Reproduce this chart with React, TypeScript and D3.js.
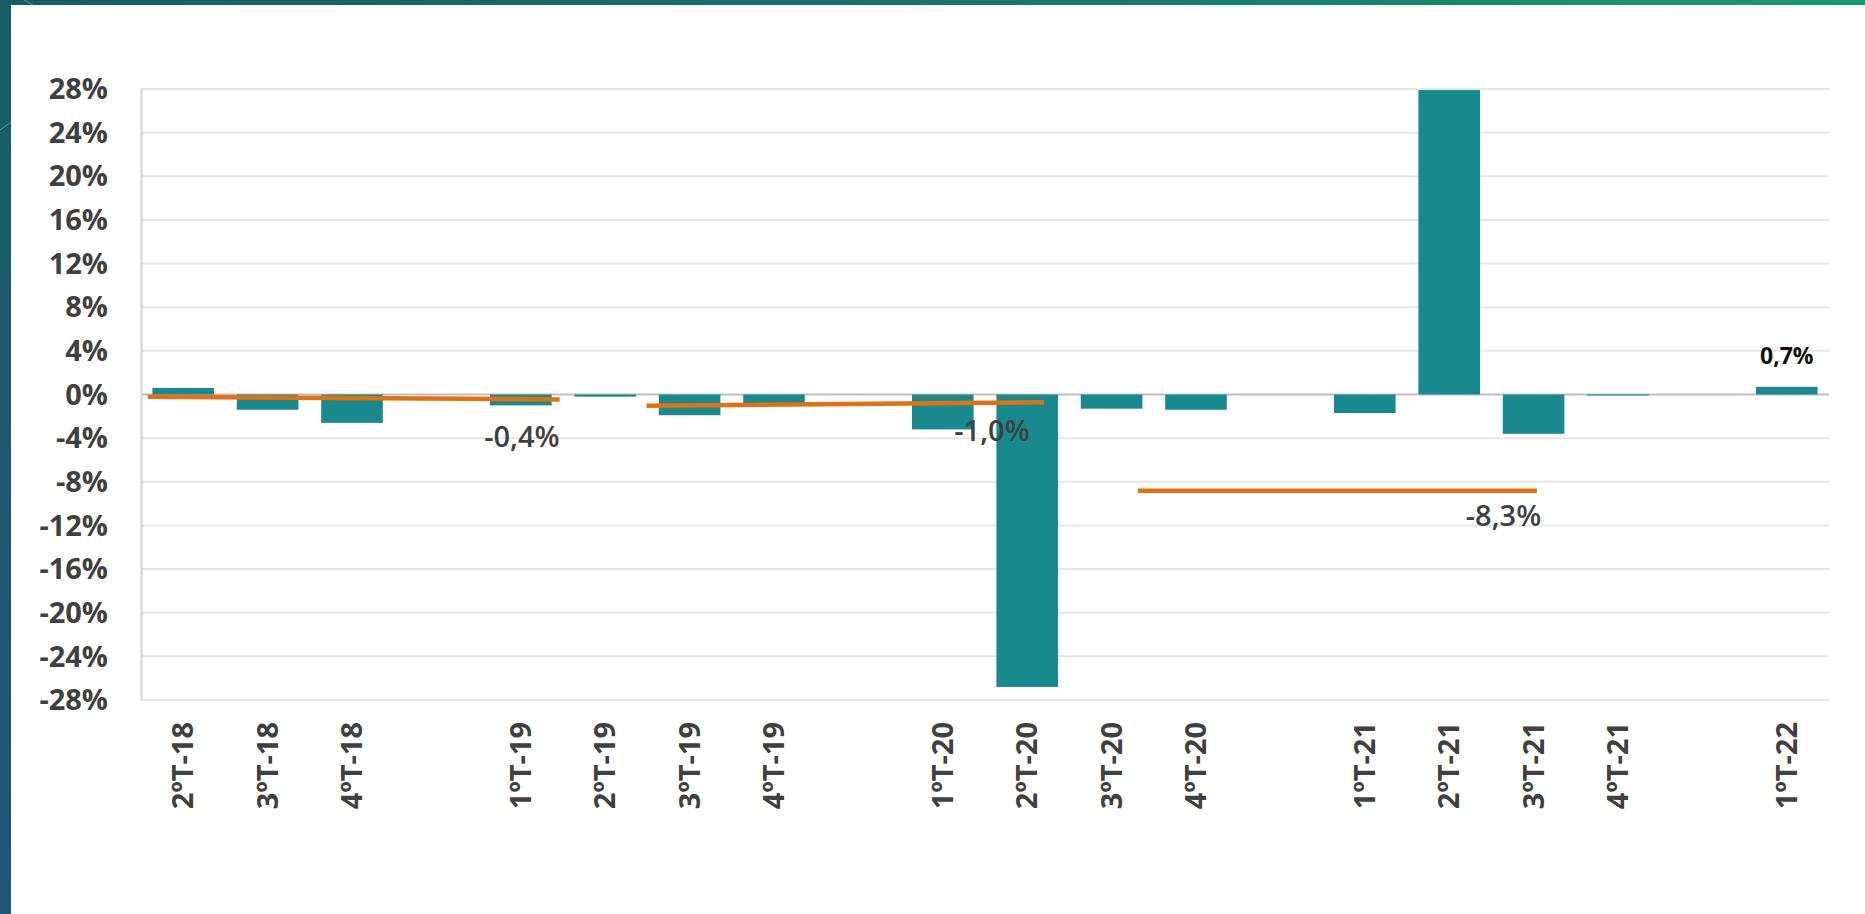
import React from "react";
import * as d3 from "d3";

const categories: string[] = [
  "2ºT-18", "3ºT-18", "4ºT-18", "",
  "1ºT-19", "2ºT-19", "3ºT-19", "4ºT-19", "",
  "1ºT-20", "2ºT-20", "3ºT-20", "4ºT-20", "",
  "1ºT-21", "2ºT-21", "3ºT-21", "4ºT-21", "",
  "1ºT-22",
];

const values: (number | null)[] = [
  0.6, -1.4, -2.6, null,
  -1.0, -0.2, -1.9, -0.8, null,
  -3.2, -26.8, -1.3, -1.4, null,
  -1.7, 27.9, -3.6, -0.1, null,
  0.7,
];

const yTicks: number[] = [28, 24, 20, 16, 12, 8, 4, 0, -4, -8, -12, -16, -20, -24, -28];

// average segments (in category-slot units) with their labels
const avgFrom: number[] = [0.08, 5.99, 11.81];
const avgTo: number[] = [4.96, 10.7, 16.54];
const avgStartVal: number[] = [-0.2, -1.03, -8.82];
const avgEndVal: number[] = [-0.45, -0.72, -8.82];
const avgLabels: string[] = ["-0,4%", "-1,0%", "-8,3%"];
const avgLabelX: number[] = [4.96, 10.53, 16.59];
const avgLabelY: number[] = [-4.81, -4.23, -12.05];

const lastLabel = "0,7%";

const W = 1865;
const H = 914;
const plotLeft = 141;
const plotRight = 1829;
const yTop = 89;
const yBottom = 700;

const BAR = "#188a8e";
const ORANGE = "#e5700e";
const TEXT = "#404040";
const FONT = "'Open Sans', 'DejaVu Sans', sans-serif";

export default function App() {
  const idx = categories.map((_, i) => String(i));
  const x = d3.scaleBand<string>().domain(idx).range([plotLeft, plotRight]).paddingInner(0.27).paddingOuter(0.135);
  const xs = d3.scaleLinear().domain([0, categories.length]).range([plotLeft, plotRight]);
  const y = d3.scaleLinear().domain([28, -28]).range([yTop, yBottom]);
  const y0 = y(0);

  const line = d3.line<[number, number]>().x((d) => xs(d[0])).y((d) => y(d[1]));

  return (
    <div style={{ position: "absolute", left: 0, top: 0, width: W, height: H }}>
      <svg width={W} height={H} style={{ display: "block" }}>
        <defs>
          <linearGradient id="topband" x1="0" y1="0" x2="1" y2="0">
            <stop offset="0" stopColor="#165c62" />
            <stop offset="0.6" stopColor="#177a6c" />
            <stop offset="1" stopColor="#1b9a77" />
          </linearGradient>
          <linearGradient id="leftband" x1="0" y1="0" x2="0" y2="1">
            <stop offset="0" stopColor="#165e63" />
            <stop offset="1" stopColor="#1f5478" />
          </linearGradient>
        </defs>
        <rect x={0} y={0} width={W} height={H} fill="#ffffff" />
        <rect x={0} y={0} width={W} height={5} fill="url(#topband)" />
        <rect x={0} y={0} width={11} height={H} fill="url(#leftband)" />
        <line x1={0} y1={130} x2={11} y2={122} stroke="#ffffff" strokeOpacity={0.35} strokeWidth={1} />
        <line x1={24} y1={0} x2={33} y2={5} stroke="#ffffff" strokeOpacity={0.35} strokeWidth={1} />

        {/* gridlines */}
        {yTicks.map((t) => (
          <line
            key={"g" + t}
            x1={plotLeft}
            x2={plotRight}
            y1={y(t)}
            y2={y(t)}
            stroke={t === 0 ? "#bfbfbf" : "#e6e6e6"}
            strokeWidth={2}
          />
        ))}
        <line x1={plotLeft + 0.5} x2={plotLeft + 0.5} y1={yTop} y2={yBottom} stroke="#d4d4d4" strokeWidth={2} />

        {/* y tick labels */}
        {yTicks.map((t) => (
          <text
            key={"t" + t}
            x={108}
            y={y(t)}
            dy="0.35em"
            textAnchor="end"
            fontFamily={FONT}
            fontWeight={700}
            fontSize={29}
            fill={TEXT}
          >
            {t + "%"}
          </text>
        ))}

        {/* bars */}
        {values.map((v, i) =>
          v === null ? null : (
            <rect
              key={"b" + i}
              x={x(String(i))}
              width={x.bandwidth()}
              y={Math.min(y(v), y0)}
              height={Math.abs(y(v) - y0)}
              fill={BAR}
            />
          )
        )}

        {/* average lines */}
        {avgFrom.map((f, i) => (
          <path
            key={"a" + i}
            d={line([[f, avgStartVal[i]], [avgTo[i], avgEndVal[i]]]) || ""}
            stroke={ORANGE}
            strokeWidth={4.5}
            fill="none"
          />
        ))}
        {avgLabels.map((l, i) => (
          <text
            key={"al" + i}
            x={xs(avgLabelX[i])}
            y={y(avgLabelY[i])}
            textAnchor="end"
            fontFamily={FONT}
            fontWeight={600}
            fontSize={29}
            fill={TEXT}
          >
            {l}
          </text>
        ))}

        {/* last value label */}
        <text
          x={(x(String(categories.length - 1)) || 0) + x.bandwidth() / 2}
          y={y(values[values.length - 1] as number) - 23}
          textAnchor="middle"
          fontFamily={FONT}
          fontWeight={700}
          fontSize={23}
          fill="#111111"
        >
          {lastLabel}
        </text>

        {/* x labels */}
        {categories.map((c, i) =>
          c === "" ? null : (
            <text
              key={"x" + i}
              transform={`translate(${xs(i + 0.5)},722) rotate(-90)`}
              textAnchor="end"
              dy="0.35em"
              fontFamily={FONT}
              fontWeight={700}
              fontSize={29}
              fill={TEXT}
            >
              {c}
            </text>
          )
        )}
      </svg>
    </div>
  );
}
